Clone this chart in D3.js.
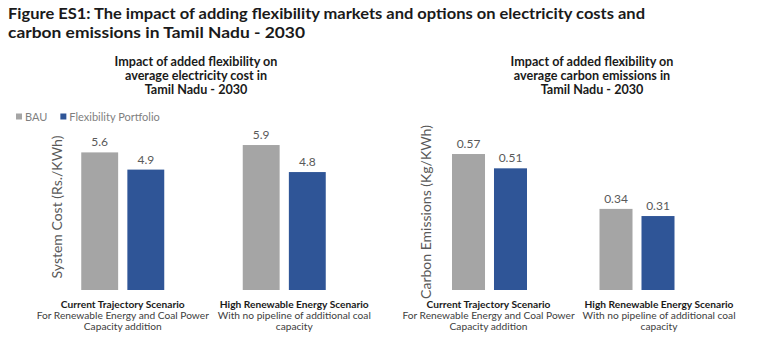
<!DOCTYPE html>
<html lang="en">
<head>
    <meta charset="UTF-8">
    <title>Figure ES1</title>
    <script src="https://cdnjs.cloudflare.com/ajax/libs/d3/7.8.5/d3.min.js"></script>
    <style>
        body {
            margin: 0;
            background-color: #ffffff;
            font-family: "Lato", "Liberation Sans", Arial, sans-serif;
        }
        svg text {
            font-family: "Lato", "Liberation Sans", Arial, sans-serif;
        }
    </style>
</head>
<body>
    <svg id="chart" width="767" height="342"></svg>
    <script>
        // data
        const scenarios = ['Current Trajectory Scenario', 'High Renewable Energy Scenario'];
        const scenarioNotes = [
            ['For Renewable Energy and Coal Power', 'Capacity addition'],
            ['With no pipeline of additional coal', 'capacity']
        ];
        const seriesNames = ['BAU', 'Flexibility Portfolio'];
        const costBAU = [5.6, 5.9];
        const costFlex = [4.9, 4.8];
        const emissionBAU = [0.57, 0.34];
        const emissionFlex = [0.51, 0.31];

        const titleLines = [
            'Figure ES1: The impact of adding flexibility markets and options on electricity costs and',
            'carbon emissions in Tamil Nadu - 2030'
        ];

        const colors = { 'BAU': '#a5a5a5', 'Flexibility Portfolio': '#2f5597' };

        const svg = d3.select('#chart');

        // main title, squeezed to the width of the original
        const titleWidths = [637, 297];
        titleLines.forEach((t, i) => {
            svg.append('text')
                .attr('x', 8)
                .attr('y', 19 + i * 19)
                .attr('textLength', titleWidths[i])
                .attr('lengthAdjust', 'spacingAndGlyphs')
                .style('font-size', '16px')
                .style('font-weight', 'bold')
                .style('fill', '#1a1a1a')
                .text(t);
        });

        // draws one grouped bar panel
        const drawPanel = (opt) => {
            const g = svg.append('g');
            const rows = scenarios.map((s, i) => ({
                scenario: s,
                notes: scenarioNotes[i],
                values: [
                    { key: seriesNames[0], value: opt.bau[i] },
                    { key: seriesNames[1], value: opt.flex[i] }
                ]
            }));

            const x0 = d3.scaleBand().domain(scenarios).range(opt.xRange);
            const x1 = d3.scaleBand().domain(seriesNames)
                .range([-opt.groupWidth / 2, opt.groupWidth / 2])
                .paddingInner(opt.inner);
            const y = d3.scaleLinear().domain(opt.yDomain).range([290, opt.yTop]);

            // panel title
            opt.title.forEach((t, i) => {
                g.append('text')
                    .attr('x', opt.titleX)
                    .attr('y', 66 + i * 14)
                    .attr('text-anchor', 'middle')
                    .style('font-size', '12.6px')
                    .style('font-weight', 'bold')
                    .style('fill', '#1a1a1a')
                    .text(t);
            });

            const groups = g.selectAll('.grp')
                .data(rows)
                .join('g')
                .attr('class', 'grp')
                .attr('transform', d => `translate(${x0(d.scenario) + x0.bandwidth() / 2},0)`);

            groups.selectAll('rect')
                .data(d => d.values)
                .join('rect')
                .attr('x', d => x1(d.key))
                .attr('width', x1.bandwidth())
                .attr('y', d => y(d.value))
                .attr('height', d => y(0) - y(d.value))
                .attr('fill', d => colors[d.key]);

            groups.selectAll('.val')
                .data(d => d.values)
                .join('text')
                .attr('class', 'val')
                .attr('x', d => x1(d.key) + x1.bandwidth() / 2)
                .attr('y', d => y(d.value) - 6)
                .attr('text-anchor', 'middle')
                .style('font-size', '12px')
                .style('fill', '#595959')
                .text(d => d.value);

            // category labels under the bars
            groups.append('text')
                .attr('x', (d, i) => opt.labelShift[i])
                .attr('y', 308)
                .attr('text-anchor', 'middle')
                .style('font-size', '10.2px')
                .style('font-weight', 'bold')
                .style('fill', '#1a1a1a')
                .text(d => d.scenario);

            groups.each(function (d, i) {
                d.notes.forEach((n, j) => {
                    d3.select(this).append('text')
                        .attr('x', opt.labelShift[i])
                        .attr('y', 319 + j * 11)
                        .attr('text-anchor', 'middle')
                        .style('font-size', '10.2px')
                        .style('fill', '#404040')
                        .text(n);
                });
            });

            // y axis title
            g.append('text')
                .attr('transform', `translate(${opt.yTitleX},${opt.yTitleY}) rotate(-90)`)
                .attr('text-anchor', 'middle')
                .style('font-size', '14px')
                .style('fill', '#595959')
                .text(opt.yTitle);

            return g;
        };

        const left = drawPanel({
            bau: costBAU,
            flex: costFlex,
            xRange: [42, 365],
            groupWidth: 83,
            inner: 0.2,
            yDomain: [0, 7],
            yTop: 118,
            title: ['Impact of added flexibility on', 'average electricity cost in', 'Tamil Nadu - 2030'],
            titleX: 196,
            labelShift: [0, 10],
            yTitle: 'System Cost (Rs./KWh)',
            yTitleX: 62,
            yTitleY: 207
        });

        drawPanel({
            bau: emissionBAU,
            flex: emissionFlex,
            xRange: [415.75, 710.75],
            groupWidth: 75,
            inner: 0.214,
            yDomain: [0, 0.7],
            yTop: 123,
            title: ['Impact of added flexibility on', 'average carbon emissions in', 'Tamil Nadu - 2030'],
            titleX: 592,
            labelShift: [-1, 22],
            yTitle: 'Carbon Emissions (Kg/KWh)',
            yTitleX: 431,
            yTitleY: 212
        });

        // legend (left panel only)
        const legend = left.append('g').attr('transform', 'translate(16,117)');
        let lx = 0;
        seriesNames.forEach((s) => {
            const item = legend.append('g').attr('transform', `translate(${lx},0)`);
            item.append('rect')
                .attr('x', 0).attr('y', -3.5)
                .attr('width', 6).attr('height', 6)
                .attr('fill', colors[s]);
            const t = item.append('text')
                .attr('x', 9).attr('y', 4)
                .style('font-size', '11px')
                .style('fill', '#7f7f7f')
                .text(s);
            lx += 9 + t.node().getComputedTextLength() + 13;
        });
    </script>
</body>
</html>
